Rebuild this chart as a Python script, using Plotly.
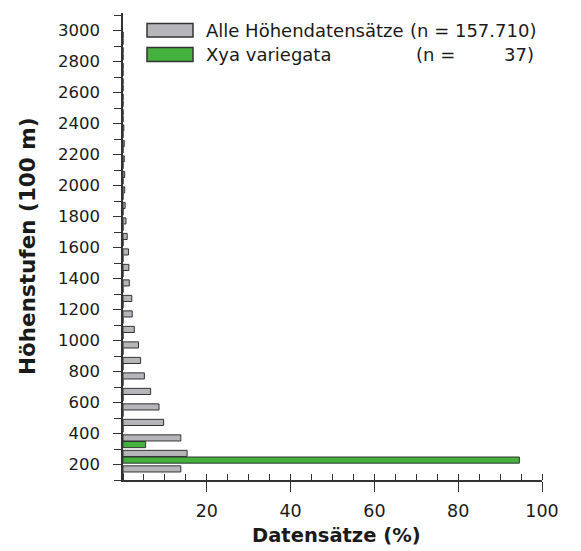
import plotly.graph_objects as go

# ---- data ----
band_lower_m = [100, 200, 300, 400, 500, 600, 700, 800, 900, 1000, 1100, 1200, 1300, 1400,
                1500, 1600, 1700, 1800, 1900, 2000, 2100, 2200, 2300, 2400, 2500, 2600,
                2700, 2800, 2900]
alle_pct = [13.8, 15.3, 13.8, 9.7, 8.6, 6.6, 5.1, 4.2, 3.7, 2.7, 2.2, 2.1, 1.5, 1.4,
            1.3, 1.0, 0.7, 0.5, 0.4, 0.4, 0.3, 0.3, 0.2, 0, 0, 0, 0, 0, 0]
xya_pct = [0, 94.6, 5.4, 0, 0, 0, 0, 0, 0, 0, 0, 0, 0, 0,
           0, 0, 0, 0, 0, 0, 0, 0, 0, 0, 0, 0, 0, 0, 0]
y_tick_vals = list(range(200, 3001, 200))
x_tick_vals = [20, 40, 60, 80, 100]
legend_names = ["Alle Höhendatensätze", "Xya variegata"]
legend_counts = ["(n = 157.710)", "37)"]

band_width = 100
band_mid = [b + band_width / 2 for b in band_lower_m]

GREY = "#b6b5ba"
GREEN = "#44b23c"
EDGE = "#333333"
TXT = "#1a1a1a"
FONT = "DejaVu Sans, Liberation Sans, Arial, sans-serif"

fig = go.Figure()
# green first so it sits below the grey bar within each band (horizontal grouped bars)
fig.add_trace(go.Bar(y=band_mid, x=xya_pct, orientation="h", name=legend_names[1],
                     marker=dict(color=GREEN, line=dict(color=EDGE, width=1)),
                     showlegend=False))
fig.add_trace(go.Bar(y=band_mid, x=alle_pct, orientation="h", name=legend_names[0],
                     marker=dict(color=GREY, line=dict(color=EDGE, width=1)),
                     showlegend=False))

# ---- plot-area pixel geometry (page coordinates; page body has an 8px margin) ----
OFF = 8
L, R, T, B = 123, 542, 13, 480
W, H = 581, 551
def px(x):
    return (x - L) / (R - L)
def py(y):
    return (B - y) / (B - T)

shapes = [
    dict(type="rect", xref="paper", yref="paper", x0=px(147), x1=px(193), y0=py(37), y1=py(23.5),
         fillcolor=GREY, line=dict(color=EDGE, width=1.5)),
    dict(type="rect", xref="paper", yref="paper", x0=px(147), x1=px(193), y0=py(61.5), y1=py(47.5),
         fillcolor=GREEN, line=dict(color=EDGE, width=1.5)),
]
lf = dict(family=FONT, size=18, color=TXT)
annotations = [
    dict(xref="paper", yref="paper", x=px(204), y=py(30), text=legend_names[0], showarrow=False,
         xanchor="left", yanchor="middle", font=lf),
    dict(xref="paper", yref="paper", x=px(538), y=py(30), text=legend_counts[0], showarrow=False,
         xanchor="right", yanchor="middle", font=lf),
    dict(xref="paper", yref="paper", x=px(204), y=py(54.5), text=legend_names[1], showarrow=False,
         xanchor="left", yanchor="middle", font=lf),
    dict(xref="paper", yref="paper", x=px(414), y=py(54.5), text="(n =", showarrow=False,
         xanchor="left", yanchor="middle", font=lf),
    dict(xref="paper", yref="paper", x=px(536), y=py(54.5), text=legend_counts[1], showarrow=False,
         xanchor="right", yanchor="middle", font=lf),
    dict(xref="paper", yref="paper", x=px(336), y=py(535), text="<b>Datensätze (%)</b>",
         showarrow=False, xanchor="center", yanchor="middle",
         font=dict(family=FONT, size=19.5, color=TXT)),
    dict(xref="paper", yref="paper", x=px(27), y=py(246), text="<b>Höhenstufen (100 m)</b>",
         showarrow=False, xanchor="center", yanchor="middle", textangle=-90,
         font=dict(family=FONT, size=21.5, color=TXT)),
]

fig.update_layout(
    width=W - OFF, height=H - OFF,
    margin=dict(l=L - OFF, r=W - R, t=T - OFF, b=H - B, pad=0),
    paper_bgcolor="white", plot_bgcolor="white",
    barmode="group", bargap=0.14, bargroupgap=0.08,
    showlegend=False,
    font=dict(family=FONT, size=17, color=TXT),
    shapes=shapes, annotations=annotations,
)
fig.update_xaxes(
    range=[0, 100], tickvals=x_tick_vals, ticks="outside", ticklen=10, tickwidth=1.3,
    tickcolor=EDGE, showline=True, linecolor=EDGE, linewidth=1.5, showgrid=False,
    zeroline=False, ticklabelstandoff=4, tickfont=dict(size=17.5),
    minor=dict(dtick=5, ticks="inside", ticklen=6, tickwidth=1.2, tickcolor=EDGE, showgrid=False),
)
fig.update_yaxes(
    range=[100, 3113], tickvals=y_tick_vals, ticks="outside", ticklen=8, tickwidth=1.3,
    tickcolor=EDGE, showline=True, linecolor=EDGE, linewidth=1.5, showgrid=False,
    zeroline=False, ticklabelstandoff=10, tickfont=dict(size=16.5),
    minor=dict(dtick=100, tick0=0, ticks="outside", ticklen=7, tickwidth=1.2, tickcolor=EDGE,
               showgrid=False),
)

fig.write_html("out.html")
